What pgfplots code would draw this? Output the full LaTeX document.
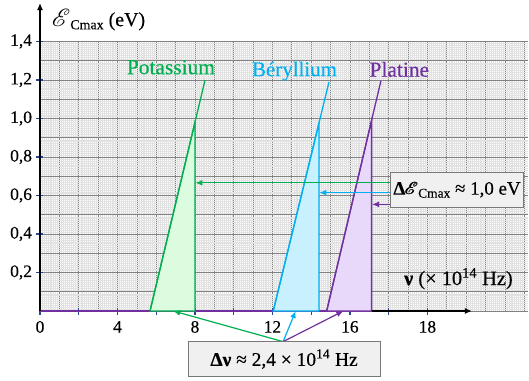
\documentclass[border=0pt]{standalone}
\usepackage{fontspec}
\setmainfont{Liberation Serif}
\newfontfamily\tnr{Liberation Serif}[UprightFeatures={FakeBold=0.35}]
\newfontfamily\tnrb{Liberation Serif Bold}[FakeBold=0.5]
\usepackage{amsmath}
\usepackage{mathrsfs}
\usepackage{pgfplots}
\pgfplotsset{compat=1.18}
\usetikzlibrary{arrows.meta}
\definecolor{cK}{RGB}{0,176,80}
\definecolor{cBe}{RGB}{0,176,240}
\definecolor{cPt}{RGB}{112,48,160}
\definecolor{fK}{RGB}{220,252,224}
\definecolor{fBe}{RGB}{200,240,255}
\definecolor{fPt}{RGB}{232,216,250}
\definecolor{tickc}{RGB}{40,70,150}
\definecolor{majg}{RGB}{130,130,130}
\definecolor{ming}{RGB}{226,226,226}
\definecolor{boxg}{RGB}{120,120,120}
\begin{document}
\begin{tikzpicture}[>={Latex[length=7bp,width=6bp]}]
\begin{axis}[
  x=19.37bp, y=192.5bp,
  xmin=0, xmax=25.2, ymin=0, ymax=1.4,
  axis line style={draw=none},
  xtick={0,1,...,25},
  ytick={0,0.1,0.2,0.3,0.4,0.5,0.6,0.7,0.8,0.9,1.0,1.1,1.2,1.3,1.4},
  xticklabels={}, yticklabels={},
  major tick length=0pt, minor tick length=0pt,
  minor x tick num=9, minor y tick num=9,
  grid=both,
  major grid style={majg, line width=0.7bp},
  minor grid style={ming, line width=0.3bp},
  extra x ticks={0,2,4,6,8,10,12,14,16,18,20},
  extra x tick labels={0,,4,,8,,12,,16,,18},
  extra y ticks={0.2,0.4,0.6,0.8,1.0,1.2,1.4},
  extra y tick labels={{0,2},{0,4},{0,6},{0,8},{1,0},{1,2},{1,4}},
  extra tick style={grid=none, major tick length=7bp, tick style={tickc, line width=1.3bp}},
  tick align=center,
  xtick pos=bottom, ytick pos=left,
  ticklabel style={font=\tnr\fontsize{17.5}{20}\selectfont},
  xticklabel style={yshift=-3bp},
  yticklabel style={xshift=-1bp},
  clip=false,
]
% E = 0 below threshold
\addplot[cPt, line width=1.8bp] coordinates {(0,0) (17.12,0)};
% shaded areas
\addplot[draw=cK, fill=fK, line width=1.3bp] coordinates {(5.68,0) (8.0,0.980) (8.0,0)} -- cycle;
\addplot[draw=cBe, fill=fBe, line width=1.3bp] coordinates {(12.04,0) (14.40,0.975) (14.40,0)} -- cycle;
\addplot[draw=cPt, fill=fPt, line width=1.3bp] coordinates {(14.80,0) (17.12,0.991) (17.12,0)} -- cycle;
% lines E = h(nu - nu0)
\addplot[cK, line width=1.3bp] coordinates {(5.68,0) (8.52,1.2)};
\addplot[cBe, line width=1.3bp] coordinates {(12.04,0) (14.92,1.19)};
\addplot[cPt, line width=1.3bp] coordinates {(14.80,0) (17.60,1.196)};
% axes
\draw[line width=1.3bp, ->] (axis cs:0,0) -- (axis cs:0,1.6);
\draw[line width=1.3bp, ->] (axis cs:17.12,0) -- (axis cs:22.3,0);
% horizontal arrows
\draw[cK, line width=1.2bp, ->] (axis cs:18.1,0.666) -- (axis cs:8.02,0.666);
\draw[cBe, line width=1.2bp, ->] (axis cs:18.1,0.615) -- (axis cs:14.42,0.615);
\draw[cPt, line width=1.2bp, ->] (axis cs:18.1,0.554) -- (axis cs:17.14,0.554);
% bottom arrows
\draw[cK, line width=1.2bp, ->] (axis cs:12.55,-0.159) -- (axis cs:6.88,0);
\draw[cBe, line width=1.2bp, ->] (axis cs:12.55,-0.159) -- (axis cs:13.2,0);
\draw[cPt, line width=1.2bp, ->] (axis cs:12.55,-0.159) -- (axis cs:15.66,0);
% boxes
\node[draw=boxg, fill=black!6, line width=0.8bp, minimum width=132.6bp, minimum height=34.6bp, inner sep=0pt,
  font=\tnr\fontsize{19}{21}\selectfont] at (axis cs:21.53,0.629)
  {{\tnrb Δ}$\pmb{\mathscr{E}}$\raisebox{-0.35ex}{\tnr\fontsize{13.5}{14}\selectfont Cmax} ≈ 1,0 eV};
\node[draw=boxg, fill=black!6, line width=0.8bp, minimum width=191.7bp, minimum height=35bp, inner sep=0pt,
  font=\tnr\fontsize{19.5}{21}\selectfont] at (axis cs:12.6,-0.25)
  {{\tnrb Δν} ≈ 2,4 × 10\textsuperscript{14} Hz};
% labels
\node[anchor=base, text=cK, font=\tnr\fontsize{21.5}{24}\selectfont, inner sep=0pt] at (axis cs:6.76,1.23) {Potassium};
\node[anchor=base, text=cBe, font=\tnr\fontsize{21}{24}\selectfont, inner sep=0pt] at (axis cs:13.14,1.22) {Béryllium};
\node[anchor=base, text=cPt, font=\tnr\fontsize{21.5}{24}\selectfont, inner sep=0pt] at (axis cs:18.55,1.217) {Platine};
\node[anchor=base west, font=\tnr\fontsize{20}{22}\selectfont, inner sep=0pt] at (axis cs:0.6,1.48)
  {{\fontsize{23}{24}\selectfont$\mathscr{E}$}\raisebox{-0.35ex}{\tnr\fontsize{14}{15}\selectfont Cmax} (eV)};
\node[anchor=base, font=\tnr\fontsize{20.5}{22}\selectfont, inner sep=0pt] at (axis cs:21.6,0.135)
  {{\tnrb ν} (× 10\textsuperscript{14} Hz)};
\coordinate (bl) at (axis cs:-2.065,-0.3584);
\coordinate (tr) at (axis cs:25.245,1.6156);
\end{axis}
\pgfresetboundingbox
\path[use as bounding box] (bl) rectangle (tr);
\end{tikzpicture}
\end{document}
